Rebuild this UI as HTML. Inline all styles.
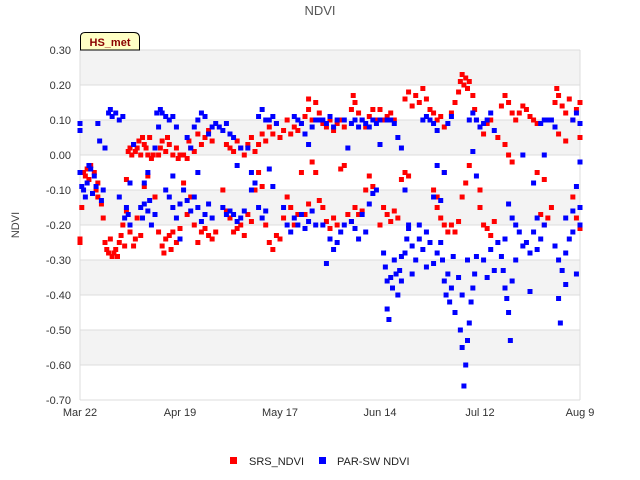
<!DOCTYPE html>
<html><head><meta charset="utf-8"><style>
html,body{margin:0;padding:0;background:#fff;}
svg{display:block;font-family:"Liberation Sans",sans-serif;}
</style></head><body>
<svg id="chart" width="640" height="480" viewBox="0 0 640 480">
<text x="320" y="15" text-anchor="middle" font-size="13" fill="#555">NDVI</text>
<g id="bands"></g>
<g id="grid"></g>
<g id="yticks"></g>
<g id="xticks"></g>
<text transform="translate(19,225) rotate(-90)" text-anchor="middle" font-size="11" fill="#444">NDVI</text>
<g id="marks"></g>
<g>
<path d="M80.5,50 L80.5,37 Q80.5,32.5 85,32.5 L134,32.5 Q139.5,32.5 139.5,38 L139.5,50 Z" fill="#ffffc4" stroke="#000" stroke-width="1"/>
<text x="110" y="46" text-anchor="middle" font-size="11" font-weight="bold" fill="#8b0000">HS_met</text>
</g>
<g>
<rect x="230" y="457" width="7" height="7" fill="#ff0000"/>
<text x="249" y="465" font-size="11" fill="#222">SRS_NDVI</text>
<rect x="319" y="457" width="7" height="7" fill="#0000ff"/>
<text x="337" y="465" font-size="11" fill="#222">PAR-SW NDVI</text>
</g>
</svg>
<script>
const yTicks=[0.3,0.2,0.1,0.0,-0.1,-0.2,-0.3,-0.4,-0.5,-0.6,-0.7];
const xTickDays=[0,28,56,84,112,140];
const xTickLabels=["Mar 22","Apr 19","May 17","Jun 14","Jul 12","Aug 9"];
const srsPoints=[[0,-0.24],[0,-0.25],[0.5,-0.15],[1,-0.05],[1.5,-0.06],[2,-0.04],[2.5,-0.07],[3,-0.03],[4,-0.05],[4.5,-0.1],[5,-0.08],[5,-0.12],
[6,-0.14],[6.5,-0.18],[7,-0.25],[7.5,-0.27],[8,-0.28],[8.5,-0.24],[9,-0.29],[9.5,-0.28],[10,-0.27],[10.5,-0.29],[11,-0.25],[11.5,-0.23],[12,-0.2],[12.5,-0.26],[13,-0.16],[13,-0.07],
[13.5,0.01],[14,0.02],[14.5,0.0],[15,0.03],[15.5,0.01],[16,0.02],[16.5,0.04],[17,0.0],[17.5,0.05],[18,0.03],[18.5,0.02],[19,0.0],[14,-0.22],[15,-0.26],[15.5,-0.24],[16,-0.18],[17,-0.23],[18,-0.09],[19,-0.06],[19.5,0.05],[20,-0.01],[20.5,0.0],
[22,0.0],[22.5,0.02],[23,0.04],[24,0.01],[24.5,0.05],[25,0.03],[26,0.0],[27,0.02],[27.5,-0.01],[28,0.0],[23,-0.26],[23.5,-0.28],[24,-0.24],[25,-0.23],[25.5,-0.27],[26,-0.22],[27,-0.25],[28,-0.21],[21,-0.12],[22,-0.22],
[29,0.0],[30,-0.01],[30.5,0.04],[31,0.02],[32,0.01],[33,0.06],[34,0.03],[35,0.05],[36,0.07],[37,0.04],[29,-0.08],[30,-0.17],[31,-0.12],[32,-0.2],[33,-0.25],[34,-0.22],[35,-0.21],[36,-0.23],[37,-0.24],[38,-0.22],
[41,0.03],[42,0.02],[43,0.01],[44,0.04],[45,0.02],[46,0.0],[47,0.03],[48,0.05],[49,0.01],[50,0.03],[51,0.06],[52,0.04],[40,-0.1],[41,-0.16],[42,-0.18],[43,-0.22],[44,-0.21],[45,-0.2],[46,-0.23],[47,-0.17],[48,-0.19],[49,-0.1],[50,-0.05],[51,-0.09],
[53,0.08],[54,0.06],[55,0.09],[56,0.05],[57,0.07],[58,0.1],[52,-0.2],[53,-0.25],[54,-0.27],[55,-0.23],[56,-0.24],[57,-0.18],[58,-0.12],
[59,0.06],[60,0.08],[61,0.07],[62,0.09],[63,0.11],[64,0.13],[65,0.1],[66,0.15],[67,0.12],[64,0.16],[59,-0.15],[60,-0.2],[61,-0.17],[62,-0.05],[63,-0.17],[64,-0.14],[65,-0.02],[66,-0.05],[67,-0.13],
[68,0.09],[69,0.08],[70,0.1],[71,0.07],[72,0.09],[73,0.1],[74,0.08],[68,-0.15],[69,-0.19],[70,-0.21],[71,-0.18],[72,-0.2],[73,-0.04],[74,-0.03],
[76,0.13],[76.5,0.17],[77,0.15],[78,0.12],[79,0.1],[80,0.08],[81,0.11],[82,0.13],[83,0.1],[75,-0.17],[76,-0.19],[77,-0.15],[78,-0.17],[79,-0.16],[80,-0.1],[81,-0.06],[82,-0.09],
[84,0.13],[85,0.1],[86,0.11],[87,0.12],[88,0.1],[84,-0.2],[85,-0.15],[86,-0.17],[87,-0.19],[88,-0.16],[89,-0.18],
[91,0.16],[92,0.18],[93,0.14],[94,0.17],[95,0.15],[96,0.19],[97,0.16],[98,0.13],[99,0.12],[90,-0.07],[91,-0.05],[92,-0.06],
[100,0.1],[101,0.11],[102,0.08],[99,-0.1],[100,-0.15],[101,-0.18],[102,-0.2],[103,-0.22],[104,-0.2],[100,-0.12],[102,-0.05],
[104,0.12],[105,0.15],[106,0.18],[106.5,0.21],[107,0.23],[107.5,0.2],[108,0.22],[108.5,0.19],[109,0.21],[110,0.17],[110.5,0.13],[111,0.1],[105,-0.22],[106,-0.19],[107,-0.12],[108,-0.08],[109,-0.03],
[112,-0.15],[113,-0.2],[114,-0.21],[115,-0.23],[116,-0.19],[112,-0.1],[113,0.06],[114,0.09],[115,0.1],[117,0.05],
[118,0.14],[119,0.17],[120,0.15],[121,0.12],[122,0.1],[123,0.12],[124,0.14],[119,0.03],[120,0.0],[121,-0.02],
[125,0.13],[126,0.11],[127,0.1],[128,0.09],[129,-0.17],[130,-0.2],[131,-0.18],[132,-0.15],[128,-0.05],[130,-0.07],
[133,0.15],[133.5,0.19],[134,0.17],[135,0.14],[136,0.12],[137,0.16],[138,0.1],[139,0.13],[140,0.15],[134,0.06],[136,0.04],[138,-0.12],[139,-0.18],[140,-0.21],[140,0.05]];
const parPoints=[[0,0.09],[0,0.07],[0,-0.05],[0.5,-0.09],[1,-0.1],[1.5,-0.12],[2,-0.08],[2.5,-0.03],[3,-0.04],[3.5,-0.11],[4,-0.06],[4.5,-0.09],[5,0.09],[5.5,0.04],[6,-0.13],[6.5,-0.1],[7,0.02],
[8,0.12],[8.5,0.13],[9,0.11],[10,0.12],[11,0.1],[12,0.11],[13,-0.15],[13.5,-0.17],[14,-0.2],[12.5,-0.18],[11,-0.12],[14,-0.08],[15,0.03],
[17,-0.15],[17.5,-0.18],[18,-0.14],[19,-0.16],[19.5,-0.13],[20,-0.2],[21,-0.17],[18,-0.08],[19,-0.05],[21,0.02],[22,0.08],[21.5,0.12],
[22.5,0.13],[23,0.12],[24,0.11],[25,0.1],[26,0.11],[27,0.08],[24,-0.1],[25,-0.12],[26,-0.15],[27,-0.18],[28,-0.14],[26,-0.06],[28,-0.24],
[29,-0.1],[30,-0.13],[31,-0.16],[32,-0.12],[33,-0.15],[34,-0.19],[35,-0.17],[36,-0.14],[30,0.05],[31,0.02],[32,0.08],[33,0.1],[34,0.12],[35,0.11],[36,0.06],[37,0.08],[33,-0.05],[37,-0.18],
[38,0.09],[39,0.08],[40,0.07],[41,0.09],[42,0.06],[43,0.05],[40,-0.15],[41,-0.17],[42,-0.16],[43,-0.17],[44,-0.19],[45,-0.18],[46,-0.16],[44,-0.03],[45,0.02],
[47,0.02],[48,-0.05],[49,-0.08],[50,0.11],[51,0.13],[52,0.1],[53,0.1],[54,0.11],[50,-0.15],[51,-0.18],[52,-0.16],[53,-0.04],[54,-0.09],[55,0.09],[48,-0.1],
[57,-0.15],[58,-0.2],[59,-0.22],[60,-0.18],[61,-0.2],[62,-0.17],[63,-0.21],[64,-0.19],[65,-0.16],[66,-0.2],[60,0.11],[61,0.1],[62,0.09],[63,0.06],[64,0.03],[65,0.08],[66,0.1],[67,0.1],
[68,0.1],[69,0.09],[70,0.11],[71,0.08],[72,0.1],[68,-0.2],[69,-0.31],[70,-0.24],[71,-0.27],[72,-0.25],[73,-0.22],[74,-0.2],[74,0.1],[75,0.02],
[76,-0.19],[77,-0.21],[78,-0.24],[79,-0.17],[80,-0.22],[81,-0.14],[82,-0.11],[76,0.09],[77,0.1],[78,0.08],[79,0.1],[80,0.09],[81,0.08],[82,0.1],[83,0.09],[84,0.1],[83,-0.1],[84,0.03],
[85,-0.28],[85.5,-0.32],[86,-0.36],[86,-0.44],[87,-0.35],[87.5,-0.38],[88,-0.3],[88.5,-0.34],[89,-0.4],[89.5,-0.33],[90,-0.29],[90,-0.36],[91,-0.28],[91.5,-0.24],[92,-0.21],[86,0.1],[87,0.1],[88,0.09],[89,0.05],[90,0.02],[91,-0.1],[92,-0.2],[86.5,-0.47],
[93,-0.26],[94,-0.3],[95,-0.24],[96,-0.27],[97,-0.32],[98,-0.25],[99,-0.31],[100,-0.28],[93,-0.34],[95,-0.2],[97,-0.22],[99,-0.12],[100,-0.03],[96,0.1],[97,0.11],[98,0.1],[99,0.09],[100,0.07],
[101,-0.25],[101.5,-0.3],[102,-0.36],[102.5,-0.4],[103,-0.34],[103.5,-0.42],[104,-0.38],[104.5,-0.29],[101,-0.13],[102,-0.05],[103,0.09],[104,0.11],[105,-0.45],
[106,-0.35],[106.5,-0.5],[107,-0.55],[107.5,-0.66],[108,-0.6],[108.5,-0.53],[109,-0.48],[109.5,-0.42],[110,-0.38],[110.5,-0.34],[111,-0.29],[107,-0.4],[108.5,-0.3],[109,0.1],[110,0.12],[111,0.1],[112,0.08],[110,0.01],[111,-0.06],
[113,-0.3],[114,-0.35],[115,-0.27],[116,-0.33],[117,-0.25],[113,0.09],[114,0.1],[115,0.12],[116,0.07],
[118,-0.29],[118.5,-0.33],[119,-0.38],[119.5,-0.41],[120,-0.45],[120.5,-0.53],[121,-0.36],[122,-0.3],[123,-0.22],[124,-0.26],[119,-0.24],[122,-0.2],[120,-0.14],[121,-0.18],[124,0.0],
[125,-0.25],[126,-0.28],[127,-0.22],[128,-0.27],[129,-0.24],[130,-0.2],[126,-0.39],[128,-0.18],[129,0.09],[130,0.1],[131,0.1],[132,0.1],[133,0.08],[127,-0.08],[130,0.0],
[133,-0.26],[134,-0.3],[134.5,-0.48],[135,-0.33],[136,-0.28],[137,-0.24],[138,-0.22],[139,-0.34],[140,-0.2],[134,-0.41],[136,-0.18],[138,-0.16],[139,-0.09],[140,-0.02],[138,0.1],[139,0.12],[140,0.09],[140,-0.15],[136,-0.37]];

const NS="http://www.w3.org/2000/svg";
const X0=80,X1=580,Y0=50,Y1=400,DMAX=140,VMAX=0.3,VMIN=-0.7;
function xScale(d){return X0+(d/DMAX)*(X1-X0);}
function yScale(v){return Y0+(VMAX-v)/(VMAX-VMIN)*(Y1-Y0);}
function mk(tag,attrs,parent){const e=document.createElementNS(NS,tag);for(const k in attrs)e.setAttribute(k,attrs[k]);parent.appendChild(e);return e;}
const bands=document.getElementById('bands'),grid=document.getElementById('grid'),yt=document.getElementById('yticks'),xt=document.getElementById('xticks'),marks=document.getElementById('marks');
for(let i=0;i<yTicks.length-1;i++){
  const top=yScale(yTicks[i]),bot=yScale(yTicks[i+1]);
  const r=mk('rect',{x:X0,y:top,width:X1-X0,height:bot-top,fill:(i%2===0)?'#f3f3f3':'#ffffff'},bands);
  
  
}
yTicks.forEach(v=>{
  const y=yScale(v);
  const l=mk('line',{x1:X0,x2:X1,y1:y,y2:y,stroke:'#dcdcdc','stroke-width':1},grid);
  
  
  const t=mk('text',{x:X0-9,y:y+4,'text-anchor':'end','font-size':11,fill:'#333'},yt);
  t.textContent=v.toFixed(2);
  
  
});
const ax=mk('line',{x1:X0,x2:X0,y1:Y0,y2:Y1,stroke:'#dcdcdc'},grid);


const ax2=mk('line',{x1:X1,x2:X1,y1:Y0,y2:Y1,stroke:'#dcdcdc'},grid);


xTickDays.forEach((d,i)=>{
  const t=mk('text',{x:xScale(d),y:Y1+16,'text-anchor':'middle','font-size':11,fill:'#333'},xt);
  t.textContent=xTickLabels[i];
  
  
});
function drawSeries(pts,color,name){
  const g=mk('g',{},marks);
  
  
  pts.forEach(p=>{
    const r=mk('rect',{x:xScale(p[0])-2.5,y:yScale(p[1])-2.5,width:5,height:5,fill:color},g);
    
    
  });
}
drawSeries(srsPoints,'#ff0000','srs-ndvi');
drawSeries(parPoints,'#0000ff','par-sw-ndvi');
</script>
</body></html>
